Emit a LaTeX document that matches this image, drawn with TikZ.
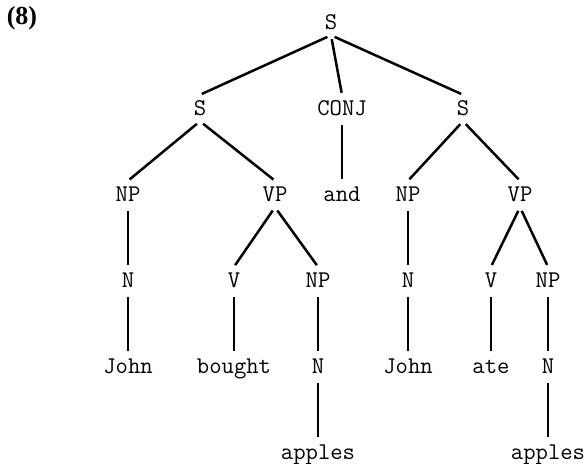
\documentclass[tikz,border=0pt]{standalone}
\usepackage{fontspec}
\newfontfamily\exfont{Liberation Serif}
\usetikzlibrary{positioning}

\begin{document}
\begin{tikzpicture}[x=0.5pt, y=-0.5pt, on grid, node distance=43pt and 0pt,
	line width=1.25pt, shorten <=2pt, shorten >=1pt,
	cat/.style={font=\ttfamily\fontsize{12}{14}\selectfont, inner xsep=1pt, inner ysep=1.5pt, text height=8pt, text depth=1pt}]
	\useasboundingbox (0,0) rectangle (587,463);
	\node[font=\exfont\bfseries\fontsize{13}{15}\selectfont] (ex) at (22,18) {(8)};

	\node[cat] (s) at (331,22) {S};
	\node[cat] (s1) [below left=43pt and 65.5pt of s] {S};
	\node[cat] (conj) [below right=43pt and 5.5pt of s] {CONJ};
	\node[cat] (s2) [below right=43pt and 66pt of s] {S};

	\node[cat] (np1) [below left=43pt and 36pt of s1] {NP};
	\node[cat] (vp1) [below right=43pt and 37.5pt of s1] {VP};
	\node[cat] (and) [below=of conj] {and};
	\node[cat] (np2) [below left=43pt and 27.5pt of s2] {NP};
	\node[cat] (vp2) [below right=43pt and 28.5pt of s2] {VP};

	\node[cat] (n1) [below=of np1] {N};
	\node[cat] (v1) [below left=43pt and 20.5pt of vp1] {V};
	\node[cat] (np3) [below right=43pt and 21.5pt of vp1] {NP};
	\node[cat] (n2) [below=of np2] {N};
	\node[cat] (v2) [below left=43pt and 14.5pt of vp2] {V};
	\node[cat] (np4) [below right=43pt and 14pt of vp2] {NP};

	\node[cat] (john1) [below=of n1] {John};
	\node[cat] (bought) [below=of v1] {bought};
	\node[cat] (n3) [below=of np3] {N};
	\node[cat] (john2) [below=of n2] {John};
	\node[cat] (ate) [below=of v2] {ate};
	\node[cat] (n4) [below=of np4] {N};

	\node[cat] (apples1) [below=of n3] {apples};
	\node[cat] (apples2) [below=of n4] {apples};

	\path (s.south) edge (s1.north)
	(s.south) edge (conj.north)
	(s.south) edge (s2.north)
	(s1.south) edge (np1.north)
	(s1.south) edge (vp1.north)
	(conj.south) edge (and.north)
	(s2.south) edge (np2.north)
	(s2.south) edge (vp2.north)
	(np1.south) edge (n1.north)
	(vp1.south) edge (v1.north)
	(vp1.south) edge (np3.north)
	(np2.south) edge (n2.north)
	(vp2.south) edge (v2.north)
	(vp2.south) edge (np4.north)
	(n1.south) edge (john1.north)
	(v1.south) edge (bought.north)
	(np3.south) edge (n3.north)
	(n2.south) edge (john2.north)
	(v2.south) edge (ate.north)
	(np4.south) edge (n4.north)
	(n3.south) edge (apples1.north)
	(n4.south) edge (apples2.north);
\end{tikzpicture}
\end{document}
